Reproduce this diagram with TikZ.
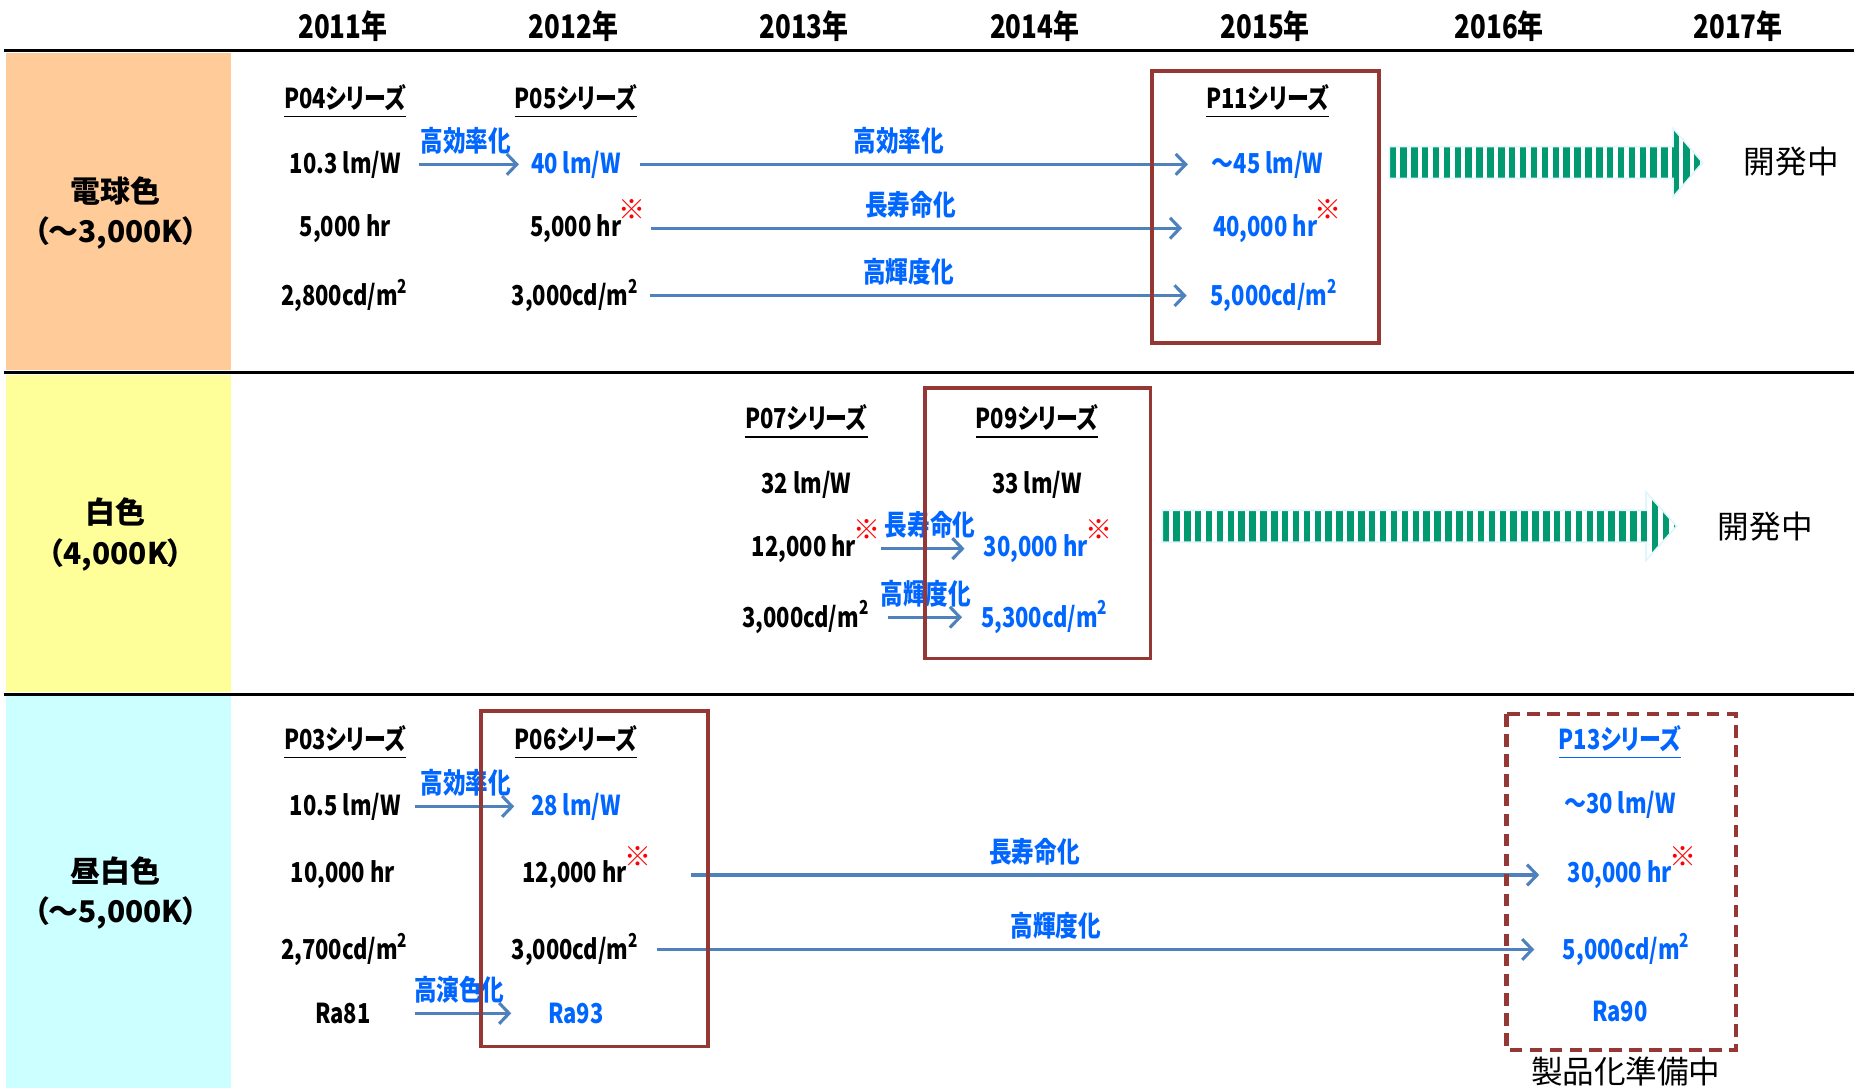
\documentclass[tikz,border=0pt]{standalone}
\usepackage{fontspec}
\newfontfamily\jpnarrow[FakeStretch=0.8,RawFeature=+palt]{Noto Sans CJK JP}
\newfontfamily\jpwide[RawFeature=+palt]{Noto Sans CJK JP}
\usetikzlibrary{arrows.meta}

\definecolor{bulborange}{RGB}{255,204,153}
\definecolor{whiteyellow}{RGB}{255,255,153}
\definecolor{daycyan}{RGB}{204,255,255}
\definecolor{valblue}{RGB}{0,102,255}
\definecolor{arrblue}{RGB}{79,129,189}
\definecolor{boxred}{RGB}{149,55,53}
\definecolor{devgreen}{RGB}{0,153,112}

\begin{document}
\begin{tikzpicture}[x=1cm,y=-1cm,
  yearlbl/.style={font=\jpnarrow\bfseries\fontsize{7.8}{9}\selectfont},
  rowlbl/.style={font=\jpwide\bfseries\fontsize{7.2}{9.7}\selectfont, align=center},
  datalbl/.style={font=\jpnarrow\bfseries\fontsize{6.6}{8}\selectfont, inner sep=1pt},
  newval/.style={datalbl, text=valblue},
  steplbl/.style={font=\jpnarrow\bfseries\fontsize{6.8}{8}\selectfont, text=valblue, inner sep=1pt},
  notemark/.style={font=\jpwide\bfseries\fontsize{6.5}{7}\selectfont, text=red, inner sep=0pt, anchor=west, xshift=-2pt, yshift=4.5pt},
  devlbl/.style={font=\jpwide\fontsize{7.6}{9}\selectfont},
  arr/.style={draw=arrblue, line width=0.75pt, -{Straight Barb[length=2.4pt,width=5pt]}},
  sepline/.style={line width=0.75pt},
  redbox/.style={draw=boxred, line width=0.9pt}
]
\useasboundingbox (0,0) rectangle (15.68,9.20);

% colour panels on the left
\fill[bulborange] (0.05,0.45) rectangle (1.95,3.13);
\fill[whiteyellow] (0.05,3.17) rectangle (1.95,5.85);
\fill[daycyan] (0.05,5.89) rectangle (1.95,9.20);

% separator lines
\draw[sepline] (0.03,0.43) -- (15.68,0.43);
\draw[sepline] (0.03,3.15) -- (15.68,3.15);
\draw[sepline] (0.03,5.87) -- (15.68,5.87);

% year header
\foreach \yr/\xx in {2011/2.90, 2012/4.85, 2013/6.80, 2014/8.75, 2015/10.70, 2016/12.68, 2017/14.70}
  \node[yearlbl] (y\yr) at (\xx,0.22) {\yr 年};

% row labels
\node[rowlbl] (bulb) at (0.98,1.80) {電球色\\（～3,000K）};
\node[rowlbl] (white) at (0.98,4.52) {白色\\（4,000K）};
\node[rowlbl] (daylt) at (0.98,7.55) {昼白色\\（～5,000K）};

% row 1
\node[datalbl] (p04) at (2.92,0.86) {\underline{P04シリーズ}};
\node[datalbl] (p05) at (4.87,0.86) {\underline{P05シリーズ}};
\node[datalbl] (p11) at (10.72,0.86) {\underline{P11シリーズ}};
\node[datalbl] (a1) at (2.92,1.39) {10.3 lm/W};
\node[datalbl] (b1) at (2.92,1.93) {5,000 hr};
\node[datalbl] (c1) at (2.92,2.50) {2,800cd/m\textsuperscript{2}};
\node[newval] (a2) at (4.87,1.39) {40 lm/W};
\node[datalbl] (b2) at (4.87,1.93) {5,000 hr};
\node[notemark] (nb2) at (b2.east) {※};
\node[datalbl] (c2) at (4.87,2.50) {3,000cd/m\textsuperscript{2}};
\node[newval] (a3) at (10.72,1.39) {～45 lm/W};
\node[newval] (b3) at (10.70,1.93) {40,000 hr};
\node[notemark] (nb3) at (b3.east) {※};
\node[newval] (c3) at (10.78,2.50) {5,000cd/m\textsuperscript{2}};

\draw[arr, shorten <=0.11cm, shorten >=0.06cm] (a1) -- (a2) node[midway, above=1pt, steplbl] {高効率化};
\draw[arr, shorten <=0.12cm, shorten >=0.16cm] (a2) -- (a3) node[pos=0.47, above=1pt, steplbl] {高効率化};
\draw[arr, shorten <=0.04cm, shorten >=0.22cm] (b2 -| nb2.east) -- (b3) node[pos=0.47, above=1pt, steplbl] {長寿命化};
\draw[arr, shorten <=0.04cm, shorten >=0.16cm] (c2) -- (c3) node[pos=0.47, above=1pt, steplbl] {高輝度化};

\node[devlbl] (dev1) at (15.15,1.37) {開発中};

% row 2
\node[datalbl] (p07) at (6.82,3.57) {\underline{P07シリーズ}};
\node[datalbl] (p09) at (8.77,3.57) {\underline{P09シリーズ}};
\node[datalbl] (a4) at (6.82,4.10) {32 lm/W};
\node[datalbl] (a5) at (8.77,4.10) {33 lm/W};
\node[datalbl] (b4) at (6.80,4.64) {12,000 hr};
\node[notemark] (nb4) at (b4.east) {※};
\node[newval] (b5) at (8.76,4.64) {30,000 hr};
\node[notemark] (nb5) at (b5.east) {※};
\node[datalbl] (c4) at (6.82,5.22) {3,000cd/m\textsuperscript{2}};
\node[newval] (c5) at (8.84,5.22) {5,300cd/m\textsuperscript{2}};

\draw[arr, shorten <=0.0cm, shorten >=0.12cm] (b4 -| nb4.east) -- (b5) node[midway, above=1pt, steplbl] {長寿命化};
\draw[arr, shorten <=0.11cm, shorten >=0.12cm] (c4) -- (c5) node[midway, above=1pt, steplbl] {高輝度化};

\node[devlbl] (dev2) at (14.93,4.45) {開発中};

% row 3
\node[datalbl] (p03) at (2.92,6.28) {\underline{P03シリーズ}};
\node[datalbl] (p06) at (4.87,6.28) {\underline{P06シリーズ}};
\node[newval] (p13) at (13.70,6.28) {\underline{P13シリーズ}};
\node[datalbl] (a6) at (2.92,6.82) {10.5 lm/W};
\node[newval] (a7) at (4.87,6.82) {28 lm/W};
\node[newval] (a8) at (13.70,6.81) {～30 lm/W};
\node[datalbl] (b6) at (2.90,7.40) {10,000 hr};
\node[datalbl] (b7) at (4.86,7.40) {12,000 hr};
\node[notemark] (nb7) at (b7.east) {※};
\node[newval] (b8) at (13.70,7.40) {30,000 hr};
\node[notemark] (nb8) at (b8.east) {※};
\node[datalbl] (c6) at (2.92,8.03) {2,700cd/m\textsuperscript{2}};
\node[datalbl] (c7) at (4.87,8.03) {3,000cd/m\textsuperscript{2}};
\node[newval] (c8) at (13.76,8.03) {5,000cd/m\textsuperscript{2}};
\node[datalbl] (r6) at (2.90,8.57) {Ra81};
\node[newval] (r7) at (4.87,8.57) {Ra93};
\node[newval] (r8) at (13.70,8.55) {Ra90};

\draw[arr, shorten <=0.08cm, shorten >=0.10cm] (a6) -- (a7) node[midway, above=1pt, steplbl] {高効率化};
\draw[arr, shorten <=0.33cm, shorten >=0.20cm] (b7 -| nb7.east) -- (b8) node[pos=0.42, above=1pt, steplbl] {長寿命化};
\draw[arr, shorten <=0.10cm, shorten >=0.20cm] (c7) -- (c8) node[pos=0.45, above=1pt, steplbl] {高輝度化};
\draw[arr, shorten <=0.33cm, shorten >=0.27cm] (r6) -- (r7) node[midway, above=1pt, steplbl] {高演色化};

\node[devlbl] (prep) at (13.75,9.06) {製品化準備中};

% development arrows (striped)
\foreach \xa/\xb/\xc/\yc in {11.75/14.15/14.40/1.375, 9.83/13.92/14.18/4.45}{
  \begin{scope}
    \clip (\xa,\yc-0.135) -- (\xb,\yc-0.135) -- (\xb,\yc-0.29) -- (\xc,\yc) -- (\xb,\yc+0.29) -- (\xb,\yc+0.135) -- (\xa,\yc+0.135) -- cycle;
    \foreach \i in {0,...,50} \fill[devgreen] (\xa+\i*0.092,\yc-0.3) rectangle ++(0.055,0.6);
  \end{scope}
  \draw[cyan!12, line width=0.4pt] (\xa,\yc-0.135) -- (\xb,\yc-0.135) -- (\xb,\yc-0.29) -- (\xc,\yc) -- (\xb,\yc+0.29) -- (\xb,\yc+0.135) -- (\xa,\yc+0.135) -- cycle;
}

% series boxes
\draw[redbox] (9.74,0.60) rectangle (11.66,2.90);
\draw[redbox] (7.82,3.28) rectangle (9.73,5.57);
\draw[redbox] (4.07,6.01) rectangle (5.99,8.85);
\draw[redbox, line width=1.1pt, dash pattern=on 3pt off 1.8pt] (12.74,6.04) rectangle (14.68,8.88);
\end{tikzpicture}
\end{document}
